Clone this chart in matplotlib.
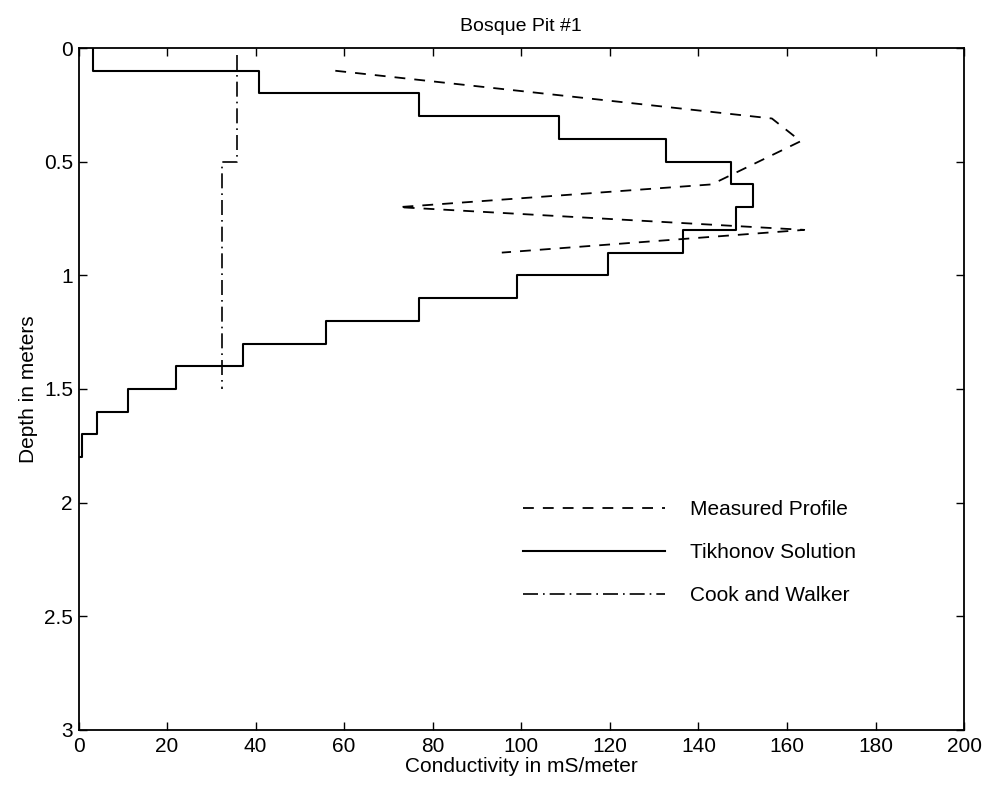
import numpy as np
import matplotlib
matplotlib.use("Agg")
from matplotlib import pyplot as plt

plt.rcParams['font.family'] = ['Liberation Sans', 'DejaVu Sans']

# Measured conductivity profile (mS/m) vs depth (m)
measured_cond = [58.0, 156.6, 163.1, 143.0, 72.3, 163.9, 95.6]
measured_depth = [0.10, 0.31, 0.41, 0.60, 0.70, 0.80, 0.90]

# Tikhonov solution, one value per 0.1 m layer from 0 to 1.8 m
tikh_edges = [0.0, 0.1, 0.2, 0.3, 0.4, 0.5, 0.6, 0.7, 0.8, 0.9,
              1.0, 1.1, 1.2, 1.3, 1.4, 1.5, 1.6, 1.7, 1.8]
tikh_cond = [3.2, 40.8, 76.8, 108.6, 132.6, 147.3, 152.4, 148.5, 136.6,
             119.6, 99.0, 76.9, 55.8, 37.1, 22.1, 11.2, 4.2, 0.8]

# Cook and Walker two-layer model
cw_cond = [35.8, 35.8, 32.4, 32.4]
cw_depth = [0.03, 0.50, 0.50, 1.50]

xticks = [0, 20, 40, 60, 80, 100, 120, 140, 160, 180, 200]
yticks = [0, 0.5, 1, 1.5, 2, 2.5, 3]
yticklabels = ['0', '0.5', '1', '1.5', '2', '2.5', '3']


def layer_steps(edges, vals):
    edges = np.asarray(edges)
    vals = np.asarray(vals)
    x = np.repeat(vals, 2)
    y = np.column_stack([edges[:-1], edges[1:]]).ravel()
    # close the last layer back to zero conductivity
    x = np.append(x, 0.0)
    y = np.append(y, edges[-1])
    return x, y


def main():
    fig = plt.figure(figsize=(9.95, 7.95), dpi=100)
    ax = fig.add_axes([0.0789, 0.0818, 0.8900, 0.8578])

    ax.plot(measured_cond, measured_depth, color='black', lw=1.3,
            linestyle=(0, (6, 5)), label='Measured Profile')
    tx, ty = layer_steps(tikh_edges, tikh_cond)
    ax.plot(tx, ty, color='black', lw=1.5, label='Tikhonov Solution')
    ax.plot(cw_cond, cw_depth, color='black', lw=1.2,
            linestyle=(0, (9, 3, 1, 3)), label='Cook and Walker')

    ax.set_xlim(0, 200)
    ax.set_ylim(3, 0)
    ax.set_xticks(xticks)
    ax.set_yticks(yticks)
    ax.set_yticklabels(yticklabels)
    ax.tick_params(direction='in', top=True, right=True, length=6,
                   width=1.0, labelsize=15)
    ax.tick_params(axis='x', pad=5)
    ax.tick_params(axis='y', pad=4)
    for sp in ax.spines.values():
        sp.set_linewidth(1.3)

    ax.set_xlabel('Conductivity in mS/meter', fontsize=15, labelpad=1)
    ax.set_ylabel('Depth in meters', fontsize=15, labelpad=4)
    ax.set_title('Bosque Pit #1', fontsize=14, pad=12)

    ax.legend(loc='upper left', bbox_to_anchor=(0.502, 0.337),
              frameon=False, fontsize=15, handlelength=6.8,
              handletextpad=1.2, labelspacing=1.15, borderpad=0,
              borderaxespad=0)

    fig.savefig('out.png', dpi=100)


if __name__ == "__main__":
    main()
